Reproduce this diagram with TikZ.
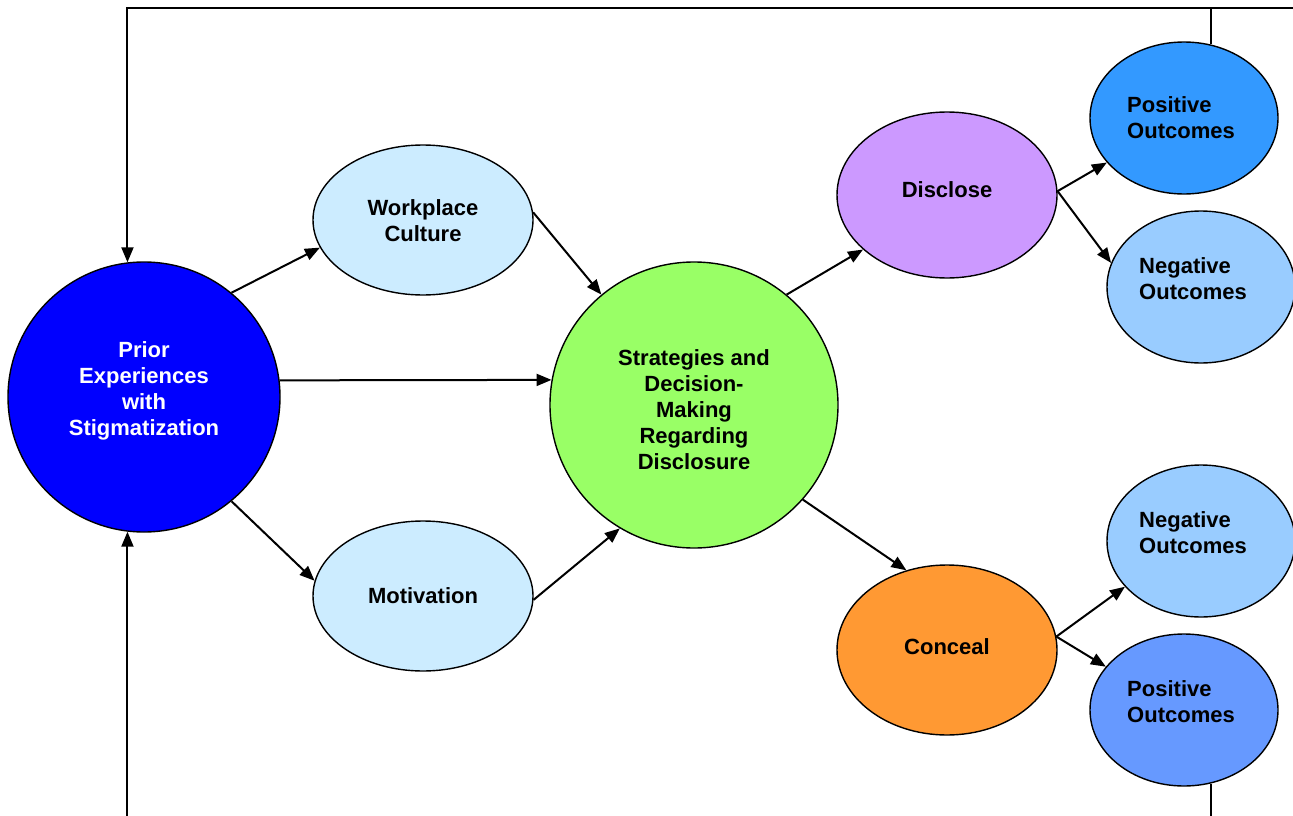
\documentclass[tikz,border=0pt]{standalone}
\usepackage{fontspec}
\setmainfont{Liberation Sans}
\usetikzlibrary{shapes.geometric,arrows.meta}
\definecolor{cPrior}{HTML}{0000FF}
\definecolor{cLight}{HTML}{CCECFF}
\definecolor{cStrat}{HTML}{99FF66}
\definecolor{cDisc}{HTML}{CC99FF}
\definecolor{cConc}{HTML}{FF9933}
\definecolor{cPosA}{HTML}{3399FF}
\definecolor{cNeg}{HTML}{99CCFF}
\definecolor{cPosB}{HTML}{6699FF}
\begin{document}
\begin{tikzpicture}[x=1pt,y=-1pt,
  bub/.style={ellipse,draw=black,line width=1.4pt,inner sep=0pt},
  outc/.style={bub,minimum width=188pt,minimum height=152pt},
  txt/.style={inner sep=0pt,align=center,font=\fontsize{22}{26}\selectfont\bfseries},
  txtl/.style={txt,align=left},
  conn/.style={line width=2pt,-{Triangle[length=15pt,width=12pt]}},
  plainline/.style={line width=2pt}]
\useasboundingbox (0,0) rectangle (1293,816);
\fill[white] (0,0) rectangle (1293,816);

\node[bub,fill=cPrior,minimum width=272pt,minimum height=270pt] (prior) at (144,397) {};
\node[bub,fill=cLight,minimum width=220pt,minimum height=150pt] (work) at (423,220) {};
\node[bub,fill=cLight,minimum width=220pt,minimum height=150pt] (mot) at (423,596) {};
\node[bub,fill=cStrat,minimum width=288pt,minimum height=286pt] (strat) at (694,405) {};
\node[bub,fill=cDisc,minimum width=220pt,minimum height=166pt] (disc) at (947,195) {};
\node[bub,fill=cConc,minimum width=220pt,minimum height=170pt] (conc) at (947,650) {};
\node[outc,fill=cPosA] (postop) at (1184,118) {};
\node[outc,fill=cNeg] (negtop) at (1201,287) {};
\node[outc,fill=cNeg] (negbot) at (1201,541) {};
\node[outc,fill=cPosB] (posbot) at (1184,710) {};

\node[txt,text=white] (priorT) at (144,391) {Prior\\Experiences\\with\\Stigmatization};
\node[txt] (workT) at (423,221) {Workplace\\Culture};
\node[txt] (motT) at (423,596) {Motivation};
\node[txt] (stratT) at (694,410) {Strategies and\\Decision-\\Making\\Regarding\\Disclosure};
\node[txt] (discT) at (947,190) {Disclose};
\node[txt] (concT) at (947,647) {Conceal};
\node[txtl,anchor=west] (postopT) at (1127,118) {Positive\\Outcomes};
\node[txtl,anchor=west] (negtopT) at (1139,279) {Negative\\Outcomes};
\node[txtl,anchor=west] (negbotT) at (1139,533) {Negative\\Outcomes};
\node[txtl,anchor=west] (posbotT) at (1127,702) {Positive\\Outcomes};

\coordinate (tr) at (1300,8);
\coordinate (bl) at (127,820);

\draw[conn] (prior.50) -- (work.195);
\draw[conn] (prior.7) -- (strat.170);
\draw[conn] (prior.310) -- (mot.172);
\draw[conn] (work.4) -- (strat.130);
\draw[conn] (mot.358) -- (strat.239);
\draw[conn] (strat.50) -- (disc.213);
\draw[conn] (strat.319) -- (conc.117);
\draw[conn] (disc.2) -- (postop.210);
\draw[conn] (disc.2) -- (negtop.165);
\draw[conn] (conc.7) -- (negbot.211);
\draw[conn] (conc.7) -- (posbot.151);

\draw[conn] (tr) -- (prior.97 |- tr) -- (prior.97);
\draw[conn] (prior.263 |- bl) -- (prior.263);
\draw[plainline] (postop.70 |- tr) -- (postop.70);
\draw[plainline] (posbot.290) -- (posbot.290 |- bl);
\end{tikzpicture}
\end{document}
